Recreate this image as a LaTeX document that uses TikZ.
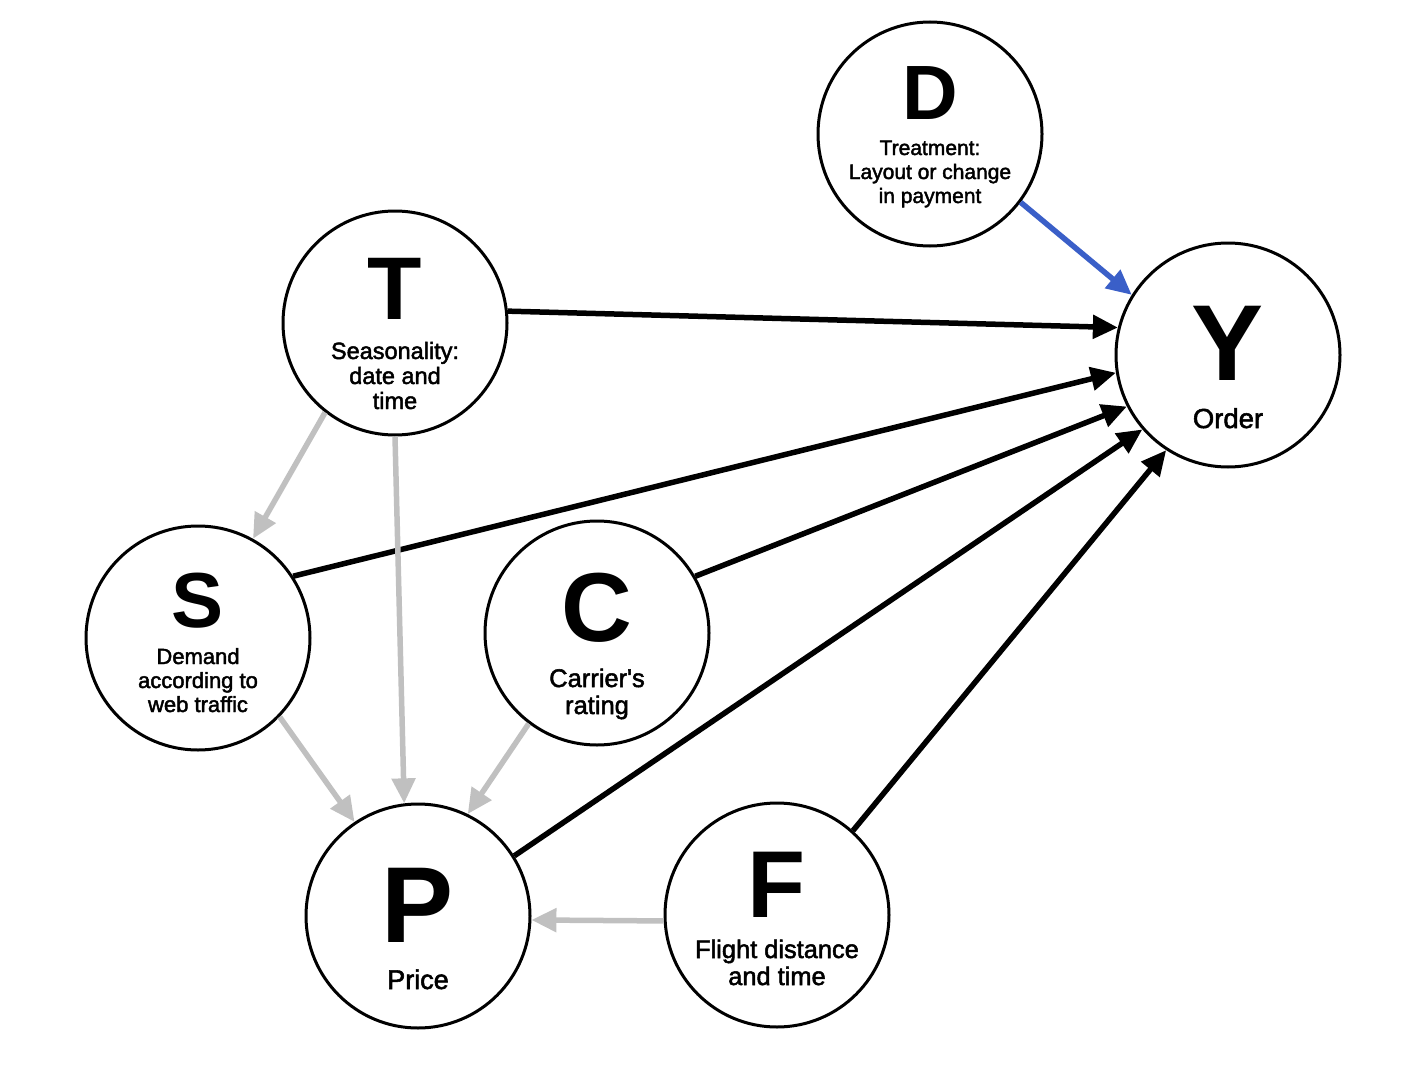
\documentclass[tikz,border=0pt]{standalone}
\usepackage{fontspec}
\setmainfont{Liberation Sans}
\newfontfamily\labfont[FakeBold=2]{Liberation Sans}
\usetikzlibrary{arrows.meta}
\definecolor{weakgrey}{RGB}{192,192,192}
\definecolor{treatblue}{RGB}{58,95,200}

\begin{document}
\begin{tikzpicture}[x=1pt,y=-1pt,
	var/.style={circle,draw,line width=3pt,minimum size=224pt,inner sep=0pt},
	sym/.style={anchor=base,inner sep=0pt,font=\bfseries\fontsize{#1}{#1}\selectfont},
	lab/.style 2 args={anchor=base,inner sep=0pt,align=center,font=\labfont\fontsize{#1}{#2}\selectfont},
	cause/.style={line width=5.5pt,-{Triangle[length=25pt,width=23pt]}},
	weak/.style={cause,draw=weakgrey},
	treat/.style={cause,draw=treatblue}]
\useasboundingbox (0,0) rectangle (1424,1070);
% variables
\node [var] (D) at (930,134) {};
\node [sym=77] (D-sym) at (930,120) {D};
\node [lab={21}{24}] (D-lab) at (930,203) {Treatment:\\Layout or change\\in payment};
\node [var] (T) at (395,323) {};
\node [sym=89] (T-sym) at (395,319) {T};
\node [lab={23.5}{25}] (T-lab) at (395,409) {Seasonality:\\date and\\time};
\node [var] (Y) at (1228,355) {};
\node [sym=108] (Y-sym) at (1228,380) {Y};
\node [lab={27.5}{28}] (Y-lab) at (1228,428) {Order};
\node [var] (S) at (198,638) {};
\node [sym=78] (S-sym) at (198,627) {S};
\node [lab={22}{24}] (S-lab) at (198,712) {Demand\\according to\\web traffic};
\node [var] (C) at (597,633) {};
\node [sym=98] (C-sym) at (597,641) {C};
\node [lab={25.5}{27}] (C-lab) at (597,714) {Carrier\textquotesingle s\\rating};
\node [var] (P) at (418,916) {};
\node [sym=108] (P-sym) at (418,942) {P};
\node [lab={27}{28}] (P-lab) at (418,989) {Price};
\node [var] (F) at (777,915) {};
\node [sym=95] (F-sym) at (777,917) {F};
\node [lab={25.4}{27}] (F-lab) at (777,985) {Flight distance\\and time};
% effects on the order
\draw [treat] (D.-37) -- (Y.148);
\draw [cause] (T.6) -- (Y.166);
\draw [cause] (S.33) -- (Y.189);
\draw [cause] (C.30) -- (Y.207);
\draw [cause] (P.32) -- (Y.221);
\draw [cause] (F.48) -- (Y.237);
% effects on the price
\draw [weak] (T.232) -- (S.61);
\draw [weak] (T.270) -- (P.97);
\draw [weak] (S.316) -- (P.124);
\draw [weak] (C.233) -- (P.64);
\draw [weak] (F.183) -- (P.358);
\end{tikzpicture}
\end{document}
